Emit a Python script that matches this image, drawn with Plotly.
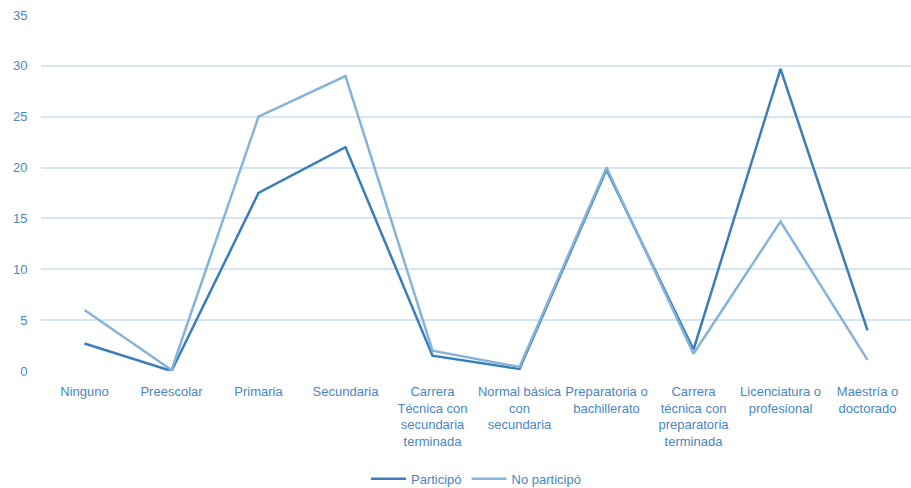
import plotly.graph_objects as go

categories = ["Ninguno", "Preescolar", "Primaria", "Secundaria",
              "Carrera<br>Técnica con<br>secundaria<br>terminada",
              "Normal básica<br>con<br>secundaria",
              "Preparatoria o<br>bachillerato",
              "Carrera<br>técnica con<br>preparatoria<br>terminada",
              "Licenciatura o<br>profesional",
              "Maestría o<br>doctorado"]
participo = [2.7, 0.0, 17.5, 22.0, 1.5, 0.2, 19.8, 2.1, 29.7, 4.0]
no_participo = [6.0, 0.1, 25.0, 29.0, 2.0, 0.4, 20.0, 1.7, 14.7, 1.1]

text_color = "#4A86C0"
fig = go.Figure()
fig.add_trace(go.Scatter(x=categories, y=participo, mode="lines", name="Participó",
                         line=dict(color="#3A7DBB", width=2.5)))
fig.add_trace(go.Scatter(x=categories, y=no_participo, mode="lines", name="No participó",
                         line=dict(color="#86B3DA", width=2.5)))

fig.update_layout(
    width=911, height=488,
    margin=dict(l=41, r=0, t=15, b=117, autoexpand=False),
    plot_bgcolor="white", paper_bgcolor="white",
    font=dict(family="Liberation Sans", size=13, color=text_color),
    legend=dict(orientation="h", x=0.5, xanchor="center", y=-0.303, yanchor="middle",
                font=dict(size=13, color=text_color), itemwidth=35,
                tracegroupgap=0),
    showlegend=True,
)
fig.update_xaxes(range=[-0.5, 9.5], showgrid=False, showline=False, zeroline=False,
                 ticks="outside", ticklen=8, tickcolor="rgba(0,0,0,0)",
                 tickangle=0, tickfont=dict(size=13, color=text_color), automargin=False)
fig.update_yaxes(range=[0, 35], dtick=5, showgrid=True, gridcolor="#D6E5F3", gridwidth=1.5,
                 zeroline=False, showline=False, ticks="outside", ticklen=10,
                 tickcolor="rgba(0,0,0,0)", tickfont=dict(size=13, color=text_color),
                 automargin=False)

fig.write_html("out.html")
